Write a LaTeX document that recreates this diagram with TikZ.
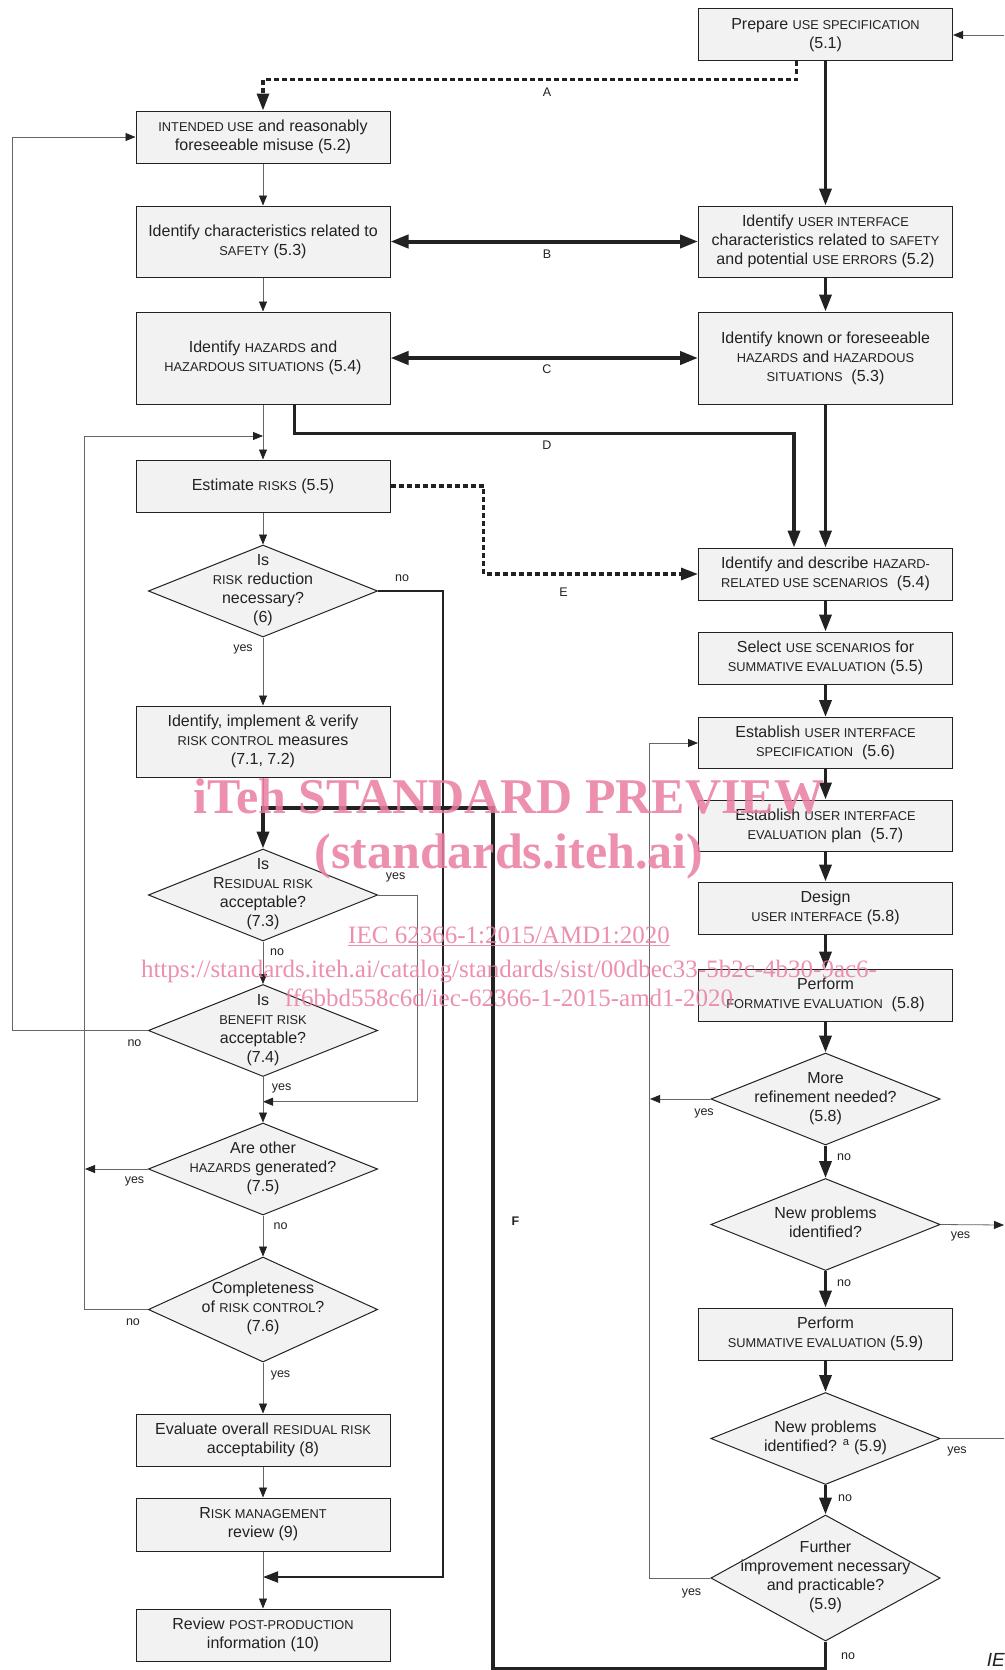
\documentclass[tikz,border=0pt]{standalone}
\usepackage{fontspec}
\setmainfont{Liberation Sans}
\newfontfamily\wmfont{Liberation Serif}
\usetikzlibrary{shapes.geometric,arrows.meta}
\definecolor{boxgray}{RGB}{242,242,242}
\definecolor{inkgray}{RGB}{34,34,34}
\definecolor{wmpink}{RGB}{233,125,160}
\newcommand{\smcap}[1]{{\fontsize{12.8}{19}\selectfont #1}}
\newcommand{\dlines}[1]{\smash{\makebox[0pt]{\raisebox{-4pt}{\begin{tabular}[c]{@{}c@{}}#1\end{tabular}}}}}
\tikzset{
  box/.style={draw=inkgray, fill=boxgray, line width=1pt, minimum width=254pt,
    inner sep=0pt, align=center, text=inkgray, font=\fontsize{16}{19}\selectfont},
  decision/.style={shape=diamond, draw=inkgray, fill=boxgray, line width=1pt,
    minimum width=229.3pt, minimum height=92pt, inner sep=0pt, text=inkgray,
    font=\fontsize{16}{19}\selectfont},
  lbl/.style={inner sep=0pt, text=inkgray, font=\fontsize{12.5}{14}\selectfont},
  thinline/.style={draw=black!60, line width=0.8pt},
  thinarr/.style={thinline, -{Triangle[length=10pt,width=8pt,color=inkgray]}},
  thickline/.style={draw=inkgray, line width=3.5pt},
  thickarr/.style={thickline, -{Triangle[length=17pt,width=12pt]}},
  noline/.style={draw=inkgray, line width=2pt, -{Triangle[length=15pt,width=11pt]}},
  biarr/.style={draw=inkgray, line width=4pt,
    {Triangle[length=18pt,width=13pt]}-{Triangle[length=18pt,width=13pt]}},
  dotarr/.style={draw=inkgray, line width=3.2pt, dash pattern=on 5pt off 3pt,
    -{Triangle[length=17pt,width=12pt]}},
  wmark/.style={inner sep=0pt, anchor=base, text=wmpink, opacity=0.85}
}
\begin{document}
\begin{tikzpicture}[x=1pt,y=1pt]
 \useasboundingbox[fill=white] (0,0) rectangle (1004,-1670);
 % left column
 \node (intended) at (263,-137) [box,minimum height=52pt] {\smcap{INTENDED USE} and reasonably\\foreseeable misuse (5.2)};
 \node (safety) at (263,-241.5) [box,minimum height=71pt] {Identify characteristics related to\\\smcap{SAFETY} (5.3)};
 \node (hazards) at (263,-358) [box,minimum height=92pt] {Identify \smcap{HAZARDS} and\\\smcap{HAZARDOUS SITUATIONS} (5.4)};
 \node (estimate) at (263,-486) [box,minimum height=52pt] {Estimate \smcap{RISKS} (5.5)};
 \node (reduction) at (263,-591) [decision] {\dlines{Is\\\smcap{RISK} reduction\\necessary?\\(6)}};
 \node (control) at (263,-741.5) [box,minimum height=71pt] {Identify, implement \& verify\\\smcap{RISK CONTROL} measures\\(7.1, 7.2)};
 \node (residual) at (263,-895) [decision] {\dlines{Is\\R\smcap{ESIDUAL RISK}\\acceptable?\\(7.3)}};
 \node (benefit) at (263,-1030.5) [decision] {\dlines{Is\\\smcap{BENEFIT RISK}\\acceptable?\\(7.4)}};
 \node (other) at (263,-1169) [decision] {\dlines{Are other\\\smcap{HAZARDS} generated?\\(7.5)}};
 \node (complete) at (263,-1309.5) [decision,minimum height=105pt] {\dlines{Completeness\\of \smcap{RISK CONTROL}?\\(7.6)}};
 \node (evaluate) at (263,-1440) [box,minimum height=52pt] {Evaluate overall \smcap{RESIDUAL RISK}\\acceptability (8)};
 \node (review) at (263,-1524.5) [box,minimum height=53pt] {R\smcap{ISK MANAGEMENT}\\review (9)};
 \node (postprod) at (263,-1635) [box,minimum height=52pt] {Review \smcap{POST-PRODUCTION}\\information (10)};
 % right column
 \node (usespec) at (825.5,-35) [box,minimum height=52pt] {Prepare \smcap{USE SPECIFICATION}\\(5.1)};
 \node (uichar) at (825.5,-241.5) [box,minimum height=71pt] {Identify \smcap{USER INTERFACE}\\characteristics related to \smcap{SAFETY}\\and potential \smcap{USE ERRORS} (5.2)};
 \node (known) at (825.5,-358) [box,minimum height=92pt] {Identify known or foreseeable\\\smcap{HAZARDS} and \smcap{HAZARDOUS}\\\smcap{SITUATIONS}\ \ (5.3)};
 \node (describe) at (825.5,-574) [box,minimum height=52pt] {Identify and describe \smcap{HAZARD-}\\\smcap{RELATED USE SCENARIOS}\ \ (5.4)};
 \node (select) at (825.5,-658) [box,minimum height=52pt] {Select \smcap{USE SCENARIOS} for\\\smcap{SUMMATIVE EVALUATION} (5.5)};
 \node (uispec) at (825.5,-743) [box,minimum height=51pt] {Establish \smcap{USER INTERFACE}\\\smcap{SPECIFICATION}\ \ (5.6)};
 \node (evalplan) at (825.5,-825.5) [box,minimum height=51pt] {Establish \smcap{USER INTERFACE}\\\smcap{EVALUATION} plan\ \ (5.7)};
 \node (design) at (825.5,-908) [box,minimum height=52pt] {Design\\\smcap{USER INTERFACE} (5.8)};
 \node (formative) at (825.5,-995) [box,minimum height=52pt] {Perform\\\smcap{FORMATIVE EVALUATION}\ \ (5.8)};
 \node (refine) at (825.5,-1099) [decision] {\dlines{More\\refinement needed?\\(5.8)}};
 \node (newprob) at (825.5,-1224.5) [decision] {\dlines{New problems\\identified?}};
 \node (summative) at (825.5,-1334) [box,minimum height=52pt] {Perform\\\smcap{SUMMATIVE EVALUATION} (5.9)};
 \node (newprobb) at (825.5,-1438.5) [decision] {\dlines{New problems\\identified? \textsuperscript{a} (5.9)}};
 \node (further) at (825.5,-1578) [decision,minimum height=126pt] {\dlines{Further\\improvement necessary\\and practicable?\\(5.9)}};
 % free ends and junctions
 \coordinate (inR) at (1004,-35);
 \coordinate (jHaz) at (263,-436);
 \coordinate (jF) at (263,-808);
 \coordinate (jFr) at (493,-808);
 \coordinate (jYes) at (263,-1101.7);
 \coordinate (jNo) at (263,-1577);
 \coordinate (otherEnd) at (85,-1169);
 \coordinate (refEnd) at (650,-1099);
 \coordinate (outR1) at (1004,-1225);
 \coordinate (outR2) at (1004,-1438.5);
 % left column connectors
 \draw[thinarr] (intended) -- (safety);
 \draw[thinarr] (safety) -- (hazards);
 \draw[thinarr] (hazards) -- (estimate);
 \draw[thinarr] (estimate) -- (reduction);
 \draw[thinarr] (reduction) -- (control);
 \draw[noline] (reduction.east) -- ++(65,0) |- (jNo);
 \draw[thinline] (control) -- (jF);
 \draw[thinarr] (residual) -- (benefit);
 \draw[thinarr] (residual.east) -- ++(39.5,0) |- (jYes);
 \draw[thinarr] (benefit.west) -- ++(-135.7,0) |- (intended.west);
 \draw[thinarr] (benefit) -- (other);
 \draw[thinarr] (other.west) -- (otherEnd);
 \draw[thinarr] (other) -- (complete);
 \draw[thinarr] (complete.west) -- ++(-63.5,0) |- (jHaz);
 \draw[thinarr] (complete) -- (evaluate);
 \draw[thinarr] (evaluate) -- (review);
 \draw[thinarr] (review) -- (postprod);
 % right column connectors
 \draw[thinarr] (inR) -- (usespec.east);
 \draw[thickarr] (usespec) -- (uichar);
 \draw[thickarr] (uichar) -- (known);
 \draw[thickarr] (known) -- (describe);
 \draw[thickarr] (describe) -- (select);
 \draw[thickarr] (select) -- (uispec);
 \draw[thickarr] (uispec) -- (evalplan);
 \draw[thickarr] (evalplan) -- (design);
 \draw[thickarr] (design) -- (formative);
 \draw[thickarr] (formative) -- (refine);
 \draw[thinarr] (refine.west) -- (refEnd);
 \draw[thickarr] (refine) -- (newprob);
 \draw[thinarr] (newprob.east) -- (outR1);
 \draw[thickarr] (newprob) -- (summative);
 \draw[thickarr] (summative) -- (newprobb);
 \draw[thinline] (newprobb.east) -- (outR2);
 \draw[thickarr] (newprobb) -- (further);
 \draw[thinarr] (further.west) -- ++(-60.7,0) |- (uispec.west);
 % links between the two columns
 \draw[dotarr] ([xshift=-29pt]usespec.south) -- ++(0,-18) -| (intended.north);
 \draw[biarr] (safety.east) -- (uichar.west);
 \draw[biarr] (hazards.east) -- (known.west);
 \draw[thickarr] ([xshift=31.5pt]hazards.south) -- ++(0,-29) -| ([xshift=-31.5pt]describe.north);
 \draw[dotarr] (estimate.east) -- ++(93,0) |- (describe.west);
 \draw[thickarr] (further.south) -- ++(0,-27) -| (jFr) -- (jF) -- (residual.north);
 % labels
 \node (lA) at (547,-92) [lbl] {A};
 \node (lB) at (547,-254) [lbl] {B};
 \node (lC) at (547,-369) [lbl] {C};
 \node (lD) at (547,-445) [lbl] {D};
 \node (lE) at (563.5,-592) [lbl] {E};
 \node (lF) at (515.5,-1221) [lbl,font=\fontsize{12.5}{14}\selectfont\bfseries] {F};
 \node (no1) at (402,-578) [lbl] {no};
 \node (yes1) at (243,-649) [lbl] {yes};
 \node (yes2) at (395.7,-877.7) [lbl] {yes};
 \node (no2) at (277,-952) [lbl] {no};
 \node (no3) at (134.5,-1042.7) [lbl] {no};
 \node (yes3) at (281.7,-1088) [lbl] {yes};
 \node (yes4) at (134.5,-1181.7) [lbl] {yes};
 \node (no4) at (280.5,-1226) [lbl] {no};
 \node (no5) at (133,-1321.7) [lbl] {no};
 \node (yes5) at (280.5,-1375) [lbl] {yes};
 \node (yes6) at (704,-1113) [lbl] {yes};
 \node (no6) at (844,-1156.7) [lbl] {no};
 \node (yes7) at (960.5,-1236.7) [lbl] {yes};
 \node (no7) at (844,-1283) [lbl] {no};
 \node (yes8) at (957,-1451.7) [lbl] {yes};
 \node (no8) at (845,-1498.3) [lbl] {no};
 \node (yes9) at (691.5,-1593.3) [lbl] {yes};
 \node (no9) at (848,-1656) [lbl] {no};
 \node (iec) at (986.7,-1653) [anchor=north west,inner sep=0pt,text=inkgray,font=\fontsize{19}{22}\selectfont\itshape] {IEC};
 % watermark
 \node (wm1) at (509,-813) [wmark,font=\wmfont\fontsize{50}{56}\selectfont\bfseries] {iTeh STANDARD PREVIEW};
 \node (wm2) at (509,-868) [wmark,font=\wmfont\fontsize{50}{56}\selectfont\bfseries] {(standards.iteh.ai)};
 \node (wm3) at (509,-943) [wmark,font=\wmfont\fontsize{25}{28}\selectfont] {\underline{IEC 62366-1:2015/AMD1:2020}};
 \node (wm4) at (509,-977) [wmark,font=\wmfont\fontsize{25}{28}\selectfont] {https://standards.iteh.ai/catalog/standards/sist/00dbec33-5b2c-4b30-9ac6-};
 \node (wm5) at (509,-1006.7) [wmark,font=\wmfont\fontsize{25}{28}\selectfont] {ff6bbd558c6d/iec-62366-1-2015-amd1-2020};
\end{tikzpicture}
\end{document}
